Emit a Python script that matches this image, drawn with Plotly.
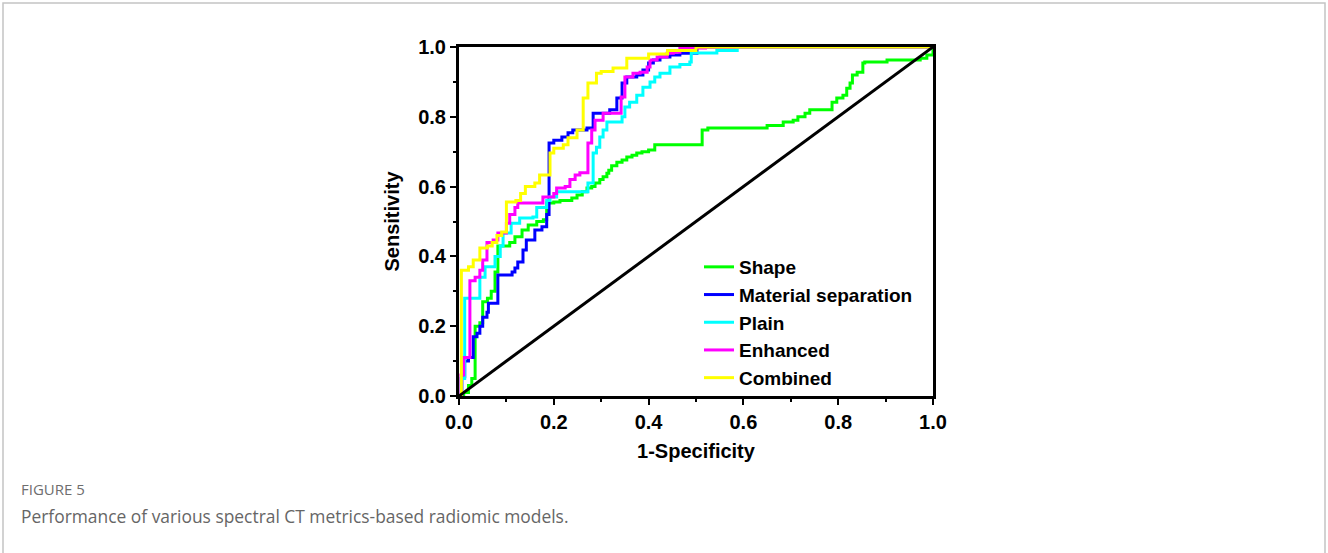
import plotly.graph_objects as go

# ---- data ----
shape_fpr = [0, 0.01, 0.02, 0.027, 0.034, 0.044, 0.05, 0.06, 0.068, 0.076, 0.082, 0.107, 0.118, 0.133, 0.146,
             0.164, 0.178, 0.185, 0.2, 0.213, 0.238, 0.249, 0.26, 0.27, 0.28, 0.287, 0.297, 0.304, 0.312, 0.316,
             0.322, 0.333, 0.344, 0.354, 0.365, 0.375, 0.386, 0.4, 0.413, 0.513, 0.525, 0.65, 0.684, 0.705, 0.715,
             0.73, 0.74, 0.787, 0.797, 0.81, 0.818, 0.825, 0.83, 0.84, 0.852, 0.856, 0.903, 0.973, 0.987, 1.0]
shape_tpr = [0, 0.01, 0.03, 0.05, 0.2, 0.21, 0.27, 0.28, 0.3, 0.355, 0.43, 0.44, 0.456, 0.476, 0.49,
             0.5, 0.505, 0.553, 0.556, 0.56, 0.567, 0.576, 0.585, 0.596, 0.6, 0.61, 0.62, 0.628, 0.638, 0.647,
             0.66, 0.67, 0.676, 0.685, 0.69, 0.696, 0.7, 0.705, 0.72, 0.762, 0.768, 0.775, 0.785, 0.79, 0.8,
             0.81, 0.82, 0.842, 0.854, 0.862, 0.882, 0.897, 0.92, 0.928, 0.954, 0.957, 0.963, 0.968, 0.977, 1.0]

material_fpr = [0, 0.006, 0.012, 0.02, 0.03, 0.038, 0.044, 0.05, 0.059, 0.062, 0.082, 0.112, 0.118, 0.124, 0.135,
                0.142, 0.16, 0.175, 0.185, 0.19, 0.2, 0.217, 0.23, 0.24, 0.27, 0.283, 0.3, 0.318, 0.333, 0.344,
                0.354, 0.375, 0.388, 0.4, 0.41, 0.424, 0.445, 0.466, 0.502, 1.0]
material_tpr = [0, 0.055, 0.1, 0.11, 0.17, 0.18, 0.2, 0.226, 0.24, 0.266, 0.347, 0.355, 0.367, 0.384, 0.418,
                0.447, 0.476, 0.485, 0.52, 0.725, 0.733, 0.742, 0.754, 0.762, 0.768, 0.81, 0.81, 0.82, 0.854, 0.897,
                0.914, 0.92, 0.934, 0.954, 0.963, 0.971, 0.977, 0.982, 1.0, 1.0]

plain_fpr = [0, 0.004, 0.012, 0.044, 0.055, 0.076, 0.087, 0.093, 0.11, 0.128, 0.156, 0.164, 0.185, 0.192, 0.206,
             0.272, 0.283, 0.29, 0.297, 0.304, 0.312, 0.344, 0.35, 0.36, 0.375, 0.388, 0.403, 0.413, 0.424, 0.445,
             0.466, 0.487, 0.49, 0.544, 0.587, 1.0]
plain_tpr = [0, 0.05, 0.28, 0.34, 0.37, 0.40, 0.43, 0.467, 0.495, 0.51, 0.513, 0.54, 0.56, 0.57, 0.585,
             0.61, 0.696, 0.713, 0.742, 0.762, 0.785, 0.80, 0.828, 0.842, 0.862, 0.885, 0.9, 0.914, 0.925, 0.943,
             0.95, 0.957, 0.983, 0.99, 1.0, 1.0]

enhanced_fpr = [0, 0.004, 0.01, 0.023, 0.034, 0.044, 0.05, 0.059, 0.072, 0.082, 0.1, 0.107, 0.118, 0.124, 0.177,
                0.2, 0.206, 0.224, 0.234, 0.245, 0.255, 0.272, 0.28, 0.287, 0.304, 0.342, 0.35, 0.367, 0.382, 0.397,
                0.403, 0.418, 0.439, 0.452, 0.466, 0.52, 1.0]
enhanced_tpr = [0, 0.06, 0.11, 0.33, 0.34, 0.36, 0.39, 0.44, 0.447, 0.467, 0.495, 0.52, 0.54, 0.553, 0.57,
                0.58, 0.596, 0.6, 0.62, 0.633, 0.64, 0.725, 0.762, 0.79, 0.81, 0.857, 0.914, 0.925, 0.928, 0.943,
                0.963, 0.971, 0.982, 0.985, 0.997, 1.0, 1.0]

combined_fpr = [0, 0.005, 0.02, 0.03, 0.044, 0.06, 0.07, 0.08, 0.09, 0.1, 0.12, 0.13, 0.14, 0.16, 0.17,
                0.192, 0.2, 0.22, 0.23, 0.249, 0.262, 0.272, 0.29, 0.3, 0.325, 0.354, 0.4, 0.44, 0.5, 1.0]
combined_tpr = [0, 0.36, 0.37, 0.39, 0.424, 0.43, 0.44, 0.46, 0.47, 0.556, 0.56, 0.58, 0.6, 0.61, 0.633,
                0.696, 0.71, 0.72, 0.74, 0.762, 0.854, 0.897, 0.925, 0.93, 0.94, 0.968, 0.98, 0.99, 1.0, 1.0]

ref_line = [0, 1]

series_names = ["Shape", "Material separation", "Plain", "Enhanced", "Combined"]
series_x = [shape_fpr, material_fpr, plain_fpr, enhanced_fpr, combined_fpr]
series_y = [shape_tpr, material_tpr, plain_tpr, enhanced_tpr, combined_tpr]
series_colors = ["#00ff00", "#0000ff", "#00ffff", "#ff00ff", "#ffff00"]

tick_vals = [0, 0.2, 0.4, 0.6, 0.8, 1.0]
tick_text = ["0.0", "0.2", "0.4", "0.6", "0.8", "1.0"]

# ---- geometry ----
W, H = 1328, 553
L, R, T, B = 459, 933, 47, 396
pw, ph = R - L, B - T

def px(x):
    return (x - L) / pw

def py(y):
    return (B - y) / ph

FONT = "Liberation Sans"
CAP_FONT = "Open Sans"

fig = go.Figure()
for name, xs, ys, col in zip(series_names, series_x, series_y, series_colors):
    fig.add_trace(go.Scatter(x=xs, y=ys, mode="lines", name=name, legendgroup=name,
                             line=dict(color=col, width=3, shape="hv")))
fig.add_trace(go.Scatter(x=ref_line, y=ref_line, mode="lines", showlegend=False,
                         line=dict(color="#000000", width=3), hoverinfo="skip"))

axis_common = dict(
    range=[0, 1], tickvals=tick_vals, ticktext=tick_text, ticks="outside", ticklen=6, tickwidth=2,
    tickcolor="black", showline=True, linecolor="black", linewidth=3, mirror=True,
    showgrid=False, zeroline=False,
    tickfont=dict(family=FONT, size=20, color="black", weight="bold"),
    minor=dict(tickvals=[0.1, 0.3, 0.5, 0.7, 0.9], ticks="outside", ticklen=3, tickwidth=2, tickcolor="black"),
)

fig.update_layout(
    width=W, height=H,
    margin=dict(l=L, r=W - R, t=T, b=H - B, autoexpand=False),
    paper_bgcolor="white", plot_bgcolor="white",
    font=dict(family=FONT, color="black"),
    xaxis=dict(axis_common, title=dict(text="1-Specificity", standoff=12,
                                       font=dict(family=FONT, size=20, weight="bold"))),
    yaxis=dict(axis_common, title=dict(text="Sensitivity", standoff=14,
                                       font=dict(family=FONT, size=20, weight="bold"))),
    legend=dict(x=px(699), y=py(248), xanchor="left", yanchor="top",
                bgcolor="rgba(0,0,0,0)", borderwidth=0, tracegroupgap=0,
                font=dict(family=FONT, size=19, color="black", weight="bold")),
    showlegend=True,
)

# outer figure frame
fig.add_shape(type="rect", xref="paper", yref="paper",
              x0=px(3), x1=px(1325), y0=py(570), y1=py(3),
              line=dict(color="#c4c4c4", width=1.5), fillcolor="rgba(0,0,0,0)", layer="below")

fig.add_annotation(xref="paper", yref="paper", x=px(19), y=py(489), xanchor="left", yanchor="middle",
                   text="FIGURE 5", showarrow=False,
                   font=dict(family=CAP_FONT, size=15, color="#6e6e6e"))
fig.add_annotation(xref="paper", yref="paper", x=px(19), y=py(516), xanchor="left", yanchor="middle",
                   text="Performance of various spectral CT metrics-based radiomic models.", showarrow=False,
                   font=dict(family=CAP_FONT, size=17.4, color="#666666"))

fig.write_html("out.html", config={"displayModeBar": False},
               post_script="document.body.style.margin='0';document.body.style.padding='0';")
